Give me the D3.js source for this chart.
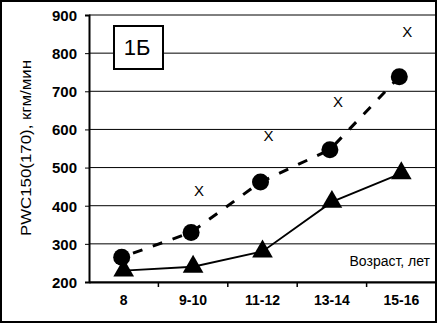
<!DOCTYPE html>
<html>
<head>
<meta charset="utf-8">
<script src="https://cdn.jsdelivr.net/npm/d3@7"></script>
<style>
body { margin: 0; background: #fff; }
text { font-family: Arial, "Liberation Sans", sans-serif; fill: #000; }
</style>
</head>
<body>
<div id="chart"></div>
<script>
var categories = ["8", "9-10", "11-12", "13-14", "15-16"];
var triangleValues = [230, 240, 280, 410, 485];
var circleValues = [265, 330, 462, 547, 738];
var crossValues = [null, 441, 583, 672, 856];
var yTicks = [200, 300, 400, 500, 600, 700, 800, 900];

var width = 438, height = 324;
var margin = {left: 89, right: 2, top: 15, bottom: 42};

var svg = d3.select("#chart").append("svg")
            .attr("width", width)
            .attr("height", height);

// outer frame
svg.append("rect")
   .attr("x", 1).attr("y", 1)
   .attr("width", width - 3).attr("height", height - 3)
   .attr("fill", "none").attr("stroke", "#000").attr("stroke-width", 2);

var x = d3.scaleBand()
          .domain(categories)
          .range([margin.left, width - margin.right]);
var y = d3.scaleLinear()
          .domain([200, 900])
          .range([height - margin.bottom, margin.top]);

// gridlines
svg.append("g").selectAll("line")
   .data(yTicks)
   .enter().append("line")
   .attr("x1", margin.left).attr("x2", width - margin.right)
   .attr("y1", function(d) { return y(d); })
   .attr("y2", function(d) { return y(d); })
   .attr("stroke", "#000").attr("stroke-width", 1);

var yAxis = d3.axisLeft(y).tickValues(yTicks).tickSize(4).tickPadding(8);
var gy = svg.append("g")
            .attr("transform", "translate(" + margin.left + ",0)")
            .call(yAxis);
gy.select(".domain").attr("stroke-width", 2);
gy.selectAll("text").style("font-size", "15px").style("font-weight", "bold").attr("dy", "0.36em");

// x axis with ticks at band boundaries
var gx = svg.append("g")
            .attr("transform", "translate(0," + y(200) + ")")
            .call(d3.axisBottom(x).tickSize(0).tickPadding(13));
gx.select(".domain").attr("stroke-width", 2);
gx.selectAll("text").style("font-size", "14px").style("font-weight", "bold");
gx.selectAll(".bnd")
  .data(categories.slice(1))
  .enter().append("line")
  .attr("x1", function(d) { return x(d); })
  .attr("x2", function(d) { return x(d); })
  .attr("y1", 0).attr("y2", 5)
  .attr("stroke", "#000").attr("stroke-width", 1.5);

function cx(d) { return x(d) + x.bandwidth() / 2; }

// dashed circle series
var circleData = categories.map(function(c, i) { return {c: c, v: circleValues[i]}; });
svg.append("path")
   .datum(circleData)
   .attr("fill", "none").attr("stroke", "#000").attr("stroke-width", 3)
   .attr("stroke-dasharray", "10,11").attr("stroke-dashoffset", -12)
   .attr("d", d3.line().x(function(d) { return cx(d.c) - 2; }).y(function(d) { return y(d.v); }));
svg.append("g").selectAll("circle")
   .data(circleData)
   .enter().append("circle")
   .attr("cx", function(d) { return cx(d.c) - 2; })
   .attr("cy", function(d) { return y(d.v); })
   .attr("r", 8.5).attr("fill", "#000");

// solid triangle series
var triData = categories.map(function(c, i) { return {c: c, v: triangleValues[i]}; });
svg.append("path")
   .datum(triData)
   .attr("fill", "none").attr("stroke", "#000").attr("stroke-width", 1.8)
   .attr("d", d3.line().x(function(d) { return cx(d.c); }).y(function(d) { return y(d.v); }));
svg.append("g").selectAll("path.tri")
   .data(triData)
   .enter().append("path")
   .attr("class", "tri")
   .attr("transform", function(d) { return "translate(" + cx(d.c) + "," + y(d.v) + ")"; })
   .attr("d", d3.symbol().type(d3.symbolTriangle).size(185))
   .attr("fill", "#000");

// crosses
svg.append("g").selectAll("text")
   .data(categories.map(function(c, i) { return {c: c, v: crossValues[i]}; }).filter(function(d) { return d.v != null; }))
   .enter().append("text")
   .attr("x", function(d) { return cx(d.c) + 6; })
   .attr("y", function(d) { return y(d.v); })
   .attr("text-anchor", "middle").attr("dominant-baseline", "central")
   .style("font-size", "15px")
   .text("X");

// label box
svg.append("rect")
   .attr("x", 114).attr("y", 26).attr("width", 49).attr("height", 43)
   .attr("fill", "#fff").attr("stroke", "#000").attr("stroke-width", 2);
svg.append("text")
   .attr("x", 137).attr("y", 47)
   .attr("text-anchor", "middle").attr("dominant-baseline", "central")
   .style("font-size", "22px")
   .text("1Б");

svg.append("text")
   .attr("x", 430).attr("y", 266)
   .attr("text-anchor", "end")
   .style("font-size", "14px")
   .text("Возраст, лет");

svg.append("text")
   .attr("transform", "translate(31,148) rotate(-90)")
   .attr("text-anchor", "middle")
   .attr("textLength", 176).attr("lengthAdjust", "spacingAndGlyphs")
   .style("font-size", "15px")
   .text("PWC150(170), кгм/мин");
</script>
</body>
</html>
